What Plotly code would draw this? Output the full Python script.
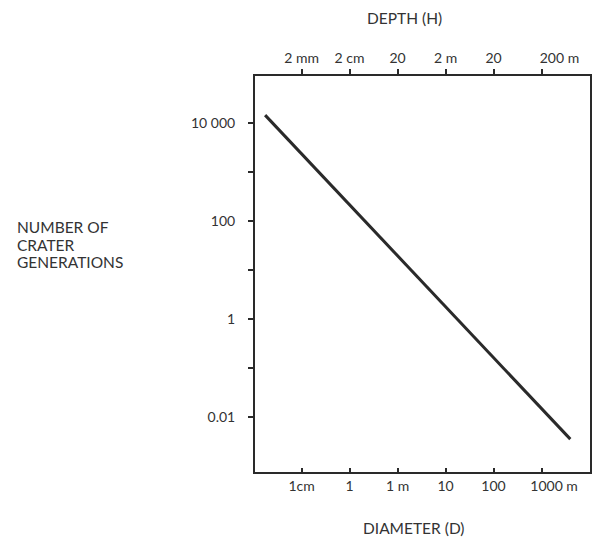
import numpy as np
import plotly.graph_objects as go

# Crater diameter (m) vs number of crater generations
diameter_m = [0.00174, 3980.0]
generations = [14500.0, 0.00355]

# Bottom axis: diameter ticks (m)
NB = "\u00a0"
diam_ticks = [0.01, 0.1, 1, 10, 100, 1000]
diam_labels = ["1cm", "1", "1 m", "10", "100", NB * 7 + "1000 m"]

# Top axis: depth ticks (m), depth H = D / 5
depth_ticks = [0.002, 0.02, 0.2, 2, 20, 200]
depth_labels = ["2 mm", "2 cm", "20", "2 m", "20", NB * 10 + "200 m"]
depth_ratio = 5.0

# Left axis: decade ticks, every other one labelled
gen_ticks = [10000, 1000, 100, 10, 1, 0.1, 0.01]
gen_labels = ["10 000", "", "100", "", "1", "", "0.01"]

y_title_lines = ["NUMBER OF", "CRATER", "GENERATIONS"]

FONT = "Lato"
INK = "#2a2a2a"
TXT = "#333333"

x_range = [-2.97, 4.01]
y_range = [-3.12, 4.96]
top_range = [v - np.log10(depth_ratio) for v in x_range]

fig = go.Figure()
fig.add_trace(go.Scatter(
    x=diameter_m, y=generations, mode="lines",
    line=dict(color=INK, width=3), showlegend=False, hoverinfo="skip",
))
# carrier trace for the depth axis
fig.add_trace(go.Scatter(
    x=[depth_ticks[0]], y=[1], xaxis="x2", mode="markers",
    marker=dict(opacity=0), showlegend=False, hoverinfo="skip",
))

axis_common = dict(
    showgrid=False, zeroline=False, showline=True, linecolor=INK, linewidth=2,
    ticks="outside", tickcolor=INK, tickwidth=2, ticklen=5, tickangle=0,
    tickfont=dict(family=FONT, size=14, color=TXT),
)

PL, PR, PT, PB = 255, 2, 76, 66
W, H = 594, 538
plot_h = H - PT - PB

annotations = [
    dict(text="DEPTH (H)", xref="paper", yref="paper", x=0.445, y=1.0,
         yshift=58, showarrow=False, xanchor="center", yanchor="middle",
         font=dict(family=FONT, size=15.5, color=TXT)),
    dict(text="DIAMETER (D)", xref="paper", yref="paper", x=0.475, y=0.0,
         yshift=-56, showarrow=False, xanchor="center", yanchor="middle",
         font=dict(family=FONT, size=15.5, color=TXT)),
]
for i, line in enumerate(y_title_lines):
    annotations.append(dict(
        text=line, xref="paper", yref="paper",
        x=(14 - PL) / (W - PL - PR), y=(H - PB - (227 + 17.5 * i)) / plot_h,
        showarrow=False, xanchor="left", yanchor="middle", align="left",
        font=dict(family=FONT, size=15.5, color=TXT),
    ))

fig.update_layout(
    width=W, height=H,
    margin=dict(l=PL, r=PR, t=PT, b=PB),
    paper_bgcolor="white", plot_bgcolor="white",
    xaxis=dict(
        type="log", range=x_range, tickvals=diam_ticks, ticktext=diam_labels,
        **{**axis_common, "ticks": "inside", "ticklen": 4},
    ),
    xaxis2=dict(
        type="log", range=top_range, tickvals=depth_ticks, ticktext=depth_labels,
        overlaying="x", side="top", anchor="y", **axis_common,
    ),
    yaxis=dict(
        type="log", range=y_range, tickvals=gen_ticks, ticktext=gen_labels,
        ticklabelstandoff=10, mirror=True, **axis_common,
    ),
    annotations=annotations,
)

fig.write_html("out.html")
